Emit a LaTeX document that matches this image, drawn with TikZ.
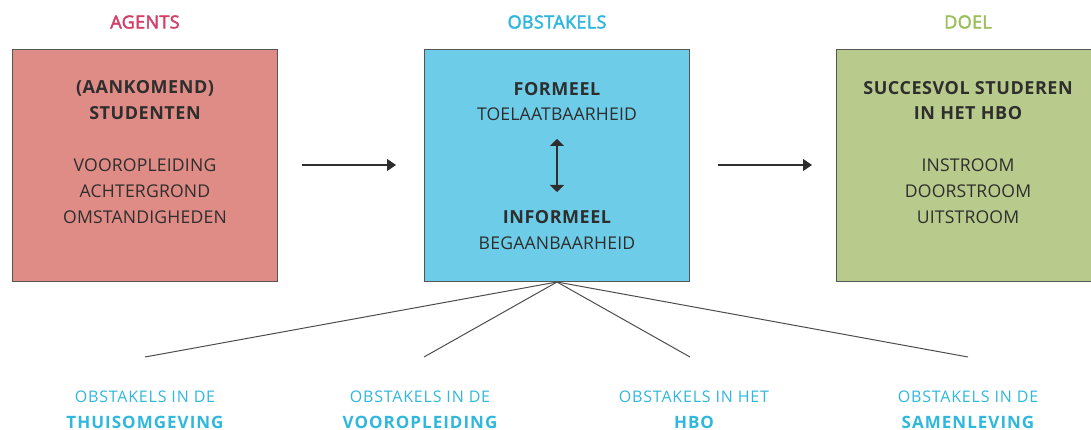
\documentclass[tikz,border=0pt]{standalone}
\usepackage{fontspec}
\setmainfont{Open Sans}
\usetikzlibrary{arrows.meta}
\definecolor{pinkfill}{HTML}{E08C86}
\definecolor{bluefill}{HTML}{6DCDE8}
\definecolor{greenfill}{HTML}{B8CB8C}
\definecolor{pinktext}{HTML}{D33F68}
\definecolor{bluetext}{HTML}{2FB7DD}
\definecolor{greentext}{HTML}{9CBF5C}
\definecolor{darktext}{HTML}{2E2E2E}
\definecolor{bordergrey}{HTML}{555555}
\tikzset{
  box/.style={draw=bordergrey, line width=1.2pt, minimum width=265pt, minimum height=232pt, inner sep=0pt, anchor=north west},
  head/.style={font=\fontsize{18}{20}\selectfont\addfontfeature{FakeBold=2.5,LetterSpace=2}, anchor=center},
  txt/.style={font=\fontsize{17.6}{20}\selectfont\addfontfeature{LetterSpace=1}, text=darktext, anchor=center},
  btxt/.style={font=\fontsize{18}{20}\selectfont\bfseries\addfontfeature{LetterSpace=3}, text=darktext, anchor=center},
  lbl/.style={font=\fontsize{16}{20}\selectfont\addfontfeature{LetterSpace=5}, text=bluetext, anchor=center},
  blbl/.style={font=\fontsize{17}{20}\selectfont\bfseries\addfontfeature{LetterSpace=6}, text=bluetext, anchor=center},
  arr/.style={line width=1.2pt, draw=darktext, -{Triangle[length=9pt,width=12pt]}},
  darr/.style={line width=1.2pt, draw=darktext, {Triangle[length=7pt,width=14pt]}-{Triangle[length=7pt,width=14pt]}},
  spoke/.style={line width=1pt, draw=darktext!85}
}
\begin{document}
\begin{tikzpicture}[x=1pt,y=-1pt]
\useasboundingbox (0,0) rectangle (1091,430);
% boxes
\node[box, fill=pinkfill] (agents) at (12,49) {};
\node[box, fill=bluefill] (obst) at (424,49) {};
\node[box, fill=greenfill] (doel) at (836,49) {};
% headings
\node[head, text=pinktext] (hA) at (145,22) {AGENTS};
\node[head, text=bluetext] (hO) at (557,22) {OBSTAKELS};
\node[head, text=greentext] (hD) at (968,22) {DOEL};
% left box text
\node[btxt] (a1) at (145,88) {(AANKOMEND)};
\node[btxt] (a2) at (145,113) {STUDENTEN};
\node[txt] (a3) at (145,165) {VOOROPLEIDING};
\node[txt] (a4) at (145,191) {ACHTERGROND};
\node[txt] (a5) at (145,217) {OMSTANDIGHEDEN};
% middle box text
\node[btxt] (o1) at (557,89) {FORMEEL};
\node[txt] (o2) at (557,114) {TOELAATBAARHEID};
\node[btxt] (o3) at (557,217) {INFORMEEL};
\node[txt] (o4) at (557,243) {BEGAANBAARHEID};
% right box text
\node[btxt] (d1) at (968,88) {SUCCESVOL STUDEREN};
\node[btxt] (d2) at (968,113) {IN HET HBO};
\node[txt] (d3) at (968,165) {INSTROOM};
\node[txt] (d4) at (968,191) {DOORSTROOM};
\node[txt] (d5) at (968,217) {UITSTROOM};
% arrows
\coordinate (l1) at (302,165);
\coordinate (l2) at (396,165);
\coordinate (r1) at (718,165);
\coordinate (r2) at (812,165);
\draw[arr] (l1) -- (l2);
\draw[arr] (r1) -- (r2);
\coordinate (m1) at (557,139);
\coordinate (m2) at (557,192);
\draw[darr] (m1) -- (m2);
% spokes
\coordinate (apex) at (557,282);
\coordinate (s1) at (145,357);
\coordinate (s2) at (424,357);
\coordinate (s3) at (690,357);
\coordinate (s4) at (968,357);
\foreach \s in {s1,s2,s3,s4} \draw[spoke] (apex) -- (\s);
% bottom labels
\node[lbl] (b1) at (145,397) {OBSTAKELS IN DE};
\node[blbl] (b1b) at (145,422) {THUISOMGEVING};
\node[lbl] (b2) at (420,397) {OBSTAKELS IN DE};
\node[blbl] (b2b) at (420,422) {VOOROPLEIDING};
\node[lbl] (b3) at (694,397) {OBSTAKELS IN HET};
\node[blbl] (b3b) at (694,422) {HBO};
\node[lbl] (b4) at (968,397) {OBSTAKELS IN DE};
\node[blbl] (b4b) at (968,422) {SAMENLEVING};
\end{tikzpicture}
\end{document}
